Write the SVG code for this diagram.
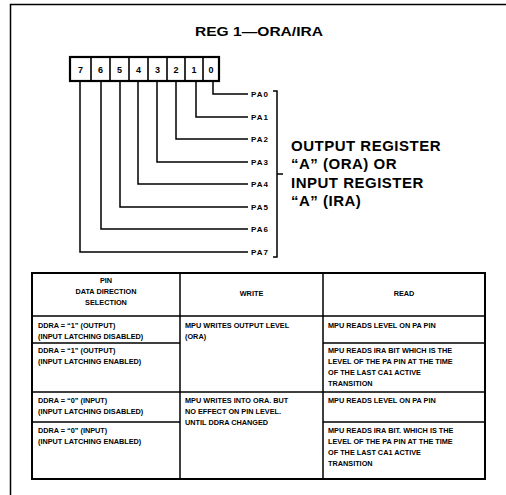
<svg xmlns="http://www.w3.org/2000/svg" width="506" height="495" viewBox="0 0 506 495">
<style>
  text { font-family: "Liberation Sans", Arial, sans-serif; fill: #000; }
  .title { font-size: 13px; font-weight: bold; }
  .bit { font-size: 9px; font-weight: bold; text-anchor: middle; }
  .pa { font-size: 8px; font-weight: bold; letter-spacing: 1px; }
  .big { font-size: 15px; font-weight: bold; letter-spacing: 0.5px; }
  .t { font-size: 7.3px; font-weight: bold; }
  .c { text-anchor: middle; }
  .ln { fill: none; stroke: #000; stroke-width: 1.5; }
  .thin { fill: none; stroke: #000; stroke-width: 1.6; }
  .cell { fill: #fff; stroke: #000; stroke-width: 2.2; }
</style>
<rect width="506" height="495" fill="#fff"/>
<g id="frame">
  <path class="ln" d="M10.5 495 V4.5 H506"/>
</g>
<text class="title c" x="259" y="36" textLength="128" lengthAdjust="spacingAndGlyphs">REG 1—ORA/IRA</text>

<g id="register">
  <rect class="cell" x="70" y="57" width="149" height="24"/>
  <path class="thin" d="M91 57V81M110 57V81M129 57V81M148 57V81M167 57V81M185 57V81M203 57V81"/>
  <text class="bit" x="80.5" y="72.5">7</text>
  <text class="bit" x="100.5" y="72.5">6</text>
  <text class="bit" x="119.5" y="72.5">5</text>
  <text class="bit" x="138.5" y="72.5">4</text>
  <text class="bit" x="157.5" y="72.5">3</text>
  <text class="bit" x="176" y="72.5">2</text>
  <text class="bit" x="194" y="72.5">1</text>
  <text class="bit" x="211" y="72.5">0</text>
</g>

<g id="connectors">
  <path class="ln" d="M213 81V94H248"/>
  <path class="ln" d="M196 81V117H248"/>
  <path class="ln" d="M176 81V139H248"/>
  <path class="ln" d="M157 81V162H248"/>
  <path class="ln" d="M138 81V184H248"/>
  <path class="ln" d="M120 81V207H248"/>
  <path class="ln" d="M101 81V229H248"/>
  <path class="ln" d="M80 81V252H248"/>
  <path class="ln" d="M273 91H277V257H273M277 174H283"/>
</g>

<g id="pa-labels">
  <text class="pa" x="251" y="97">PA0</text>
  <text class="pa" x="251" y="120">PA1</text>
  <text class="pa" x="251" y="142">PA2</text>
  <text class="pa" x="251" y="165">PA3</text>
  <text class="pa" x="251" y="187">PA4</text>
  <text class="pa" x="251" y="210">PA5</text>
  <text class="pa" x="251" y="232">PA6</text>
  <text class="pa" x="251" y="255">PA7</text>
</g>

<g id="register-label">
  <text class="big" x="291" y="151">OUTPUT REGISTER</text>
  <text class="big" x="291" y="169">“A” (ORA) OR</text>
  <text class="big" x="291" y="188">INPUT REGISTER</text>
  <text class="big" x="291" y="206">“A” (IRA)</text>
</g>

<g id="table">
  <rect x="32" y="273" width="453" height="206" fill="none" stroke="#000" stroke-width="2"/>
  <path class="ln" d="M180 273V479M323 273V479"/>
  <path class="ln" d="M32 316H485M32 343H180M323 343H485M32 392H485M32 422H180M323 422H485"/>
  <text class="t c" x="106" y="283">PIN</text>
  <text class="t c" x="106" y="294">DATA DIRECTION</text>
  <text class="t c" x="106" y="305">SELECTION</text>
  <text class="t c" x="251.5" y="296">WRITE</text>
  <text class="t c" x="404" y="296">READ</text>

  <text class="t" x="38" y="328">DDRA = “1” (OUTPUT)</text>
  <text class="t" x="38" y="339">(INPUT LATCHING DISABLED)</text>
  <text class="t" x="185" y="328">MPU WRITES OUTPUT LEVEL</text>
  <text class="t" x="185" y="339">(ORA)</text>
  <text class="t" x="328" y="328">MPU READS LEVEL ON PA PIN</text>

  <text class="t" x="38" y="353">DDRA = “1” (OUTPUT)</text>
  <text class="t" x="38" y="364">(INPUT LATCHING ENABLED)</text>
  <text class="t" x="328" y="353">MPU READS IRA BIT WHICH IS THE</text>
  <text class="t" x="328" y="364">LEVEL OF THE PA PIN AT THE TIME</text>
  <text class="t" x="328" y="375">OF THE LAST CA1 ACTIVE</text>
  <text class="t" x="328" y="386">TRANSITION</text>

  <text class="t" x="38" y="403">DDRA = “0” (INPUT)</text>
  <text class="t" x="38" y="414">(INPUT LATCHING DISABLED)</text>
  <text class="t" x="185" y="403">MPU WRITES INTO ORA. BUT</text>
  <text class="t" x="185" y="414">NO EFFECT ON PIN LEVEL.</text>
  <text class="t" x="185" y="425">UNTIL DDRA CHANGED</text>
  <text class="t" x="328" y="403">MPU READS LEVEL ON PA PIN</text>

  <text class="t" x="38" y="433">DDRA = “0” (INPUT)</text>
  <text class="t" x="38" y="444">(INPUT LATCHING ENABLED)</text>
  <text class="t" x="328" y="433">MPU READS IRA BIT. WHICH IS THE</text>
  <text class="t" x="328" y="444">LEVEL OF THE PA PIN AT THE TIME</text>
  <text class="t" x="328" y="455">OF THE LAST CA1 ACTIVE</text>
  <text class="t" x="328" y="466">TRANSITION</text>
</g>
</svg>
